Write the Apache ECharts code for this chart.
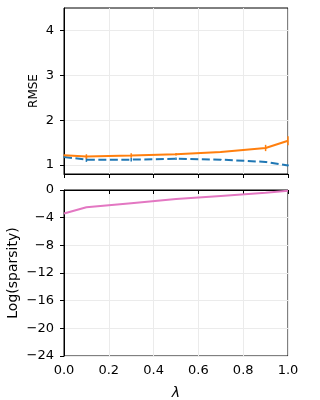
<!DOCTYPE html>
<html>
<head>
<meta charset="utf-8">
<script src="https://cdn.jsdelivr.net/npm/echarts@6/dist/echarts.min.js"></script>
<style>
  html, body { margin: 0; padding: 0; background: #fff; }
  #chart { width: 320px; height: 400px; }
</style>
</head>
<body>
<div id="chart"></div>
<script>
// lambda values shared by all series
const lambdas = [0, 0.1, 0.3, 0.5, 0.7, 0.9, 1.0]

// RMSE (top panel)
const rmseBlue = [1.18, 1.12, 1.12, 1.14, 1.12, 1.07, 0.99]
const rmseBlueErr = [0.01, 0.05, 0.04, 0.03, 0.01, 0.01, 0.02]
const rmseOrange = [1.22, 1.19, 1.21, 1.24, 1.29, 1.38, 1.54]
const rmseOrangeErr = [0.01, 0.05, 0.05, 0.03, 0.01, 0.07, 0.1]

// Log(sparsity) (bottom panel)
const logSparsity = [-3.4, -2.5, -1.9, -1.3, -0.85, -0.4, -0.1]

const rmseTicks = [1, 2, 3, 4]

const font = 'DejaVu Sans'
const ink = '#000'
const gridColor = '#ebebeb'
const blue = '#1f77b4'
const orange = '#ff7f0e'
const pink = '#e377c2'

const pairs = (ys) => lambdas.map((x, i) => [x, ys[i]])
const errData = (ys, errs) => lambdas.map((x, i) => [x, ys[i], errs[i]])

const errorBars = (name, color, ys, errs) => ({
  name,
  type: 'custom',
  xAxisIndex: 0,
  yAxisIndex: 0,
  data: errData(ys, errs),
  z: 4,
  renderItem: (params, api) => {
    const x = api.value(0)
    const lo = api.coord([x, api.value(1) - api.value(2)])
    const hi = api.coord([x, api.value(1) + api.value(2)])
    return {
      type: 'line',
      shape: { x1: lo[0], y1: lo[1], x2: hi[0], y2: hi[1] },
      style: { stroke: color, lineWidth: 1.5 },
    }
  },
})

const xAxisBase = {
  type: 'value',
  min: 0,
  max: 1,
  interval: 0.2,
  axisLine: { lineStyle: { color: ink, width: 1 } },
  axisTick: { show: true, inside: false, length: 4, lineStyle: { color: ink } },
  splitLine: { show: true, lineStyle: { color: gridColor, width: 1 } },
}

const gridBase = {
  left: 64, right: 32, height: 166,
  show: true, borderColor: ink, borderWidth: 1, backgroundColor: 'transparent',
  containLabel: false, outerBoundsMode: 'none',
}

const chart = echarts.init(document.getElementById('chart'), null, { renderer: 'canvas' })

chart.setOption({
  animation: false,
  textStyle: { fontFamily: font },
  grid: [
    { ...gridBase, top: 8 },
    { ...gridBase, top: 190 },
  ],
  xAxis: [
    { ...xAxisBase, gridIndex: 0, axisLabel: { show: false } },
    {
      ...xAxisBase,
      gridIndex: 1,
      axisLabel: { color: ink, fontSize: 13, fontFamily: font, margin: 8, formatter: (v) => v.toFixed(1) },
      name: 'λ',
      nameLocation: 'middle',
      nameGap: 30,
      nameMoveOverlap: false,
      nameTextStyle: { color: ink, fontSize: 14, fontFamily: font, fontStyle: 'italic' },
    },
  ],
  yAxis: [
    {
      type: 'value',
      gridIndex: 0,
      min: 0.8,
      max: 4.5,
      axisLine: { show: true, lineStyle: { color: ink } },
      axisTick: { show: true, length: 4, lineStyle: { color: ink }, customValues: rmseTicks },
      axisLabel: { color: ink, fontSize: 13, fontFamily: font, margin: 10, customValues: rmseTicks },
      splitLine: { show: true, lineStyle: { color: gridColor, width: 1 } },
      name: 'RMSE',
      nameLocation: 'middle',
      nameGap: 24,
      nameMoveOverlap: false,
      nameTextStyle: { color: ink, fontSize: 12, fontFamily: font },
    },
    {
      type: 'value',
      gridIndex: 1,
      min: -24,
      max: 0,
      interval: 4,
      axisLine: { show: true, lineStyle: { color: ink } },
      axisTick: { show: true, length: 4, lineStyle: { color: ink } },
      axisLabel: {
        color: ink, fontSize: 13, fontFamily: font, margin: 10,
        formatter: (v) => String(v).replace('-', '\u2212'),
      },
      splitLine: { show: true, lineStyle: { color: gridColor, width: 1 } },
      name: 'Log(sparsity)',
      nameLocation: 'middle',
      nameGap: 44,
      nameMoveOverlap: false,
      nameTextStyle: { color: ink, fontSize: 14, fontFamily: font },
    },
  ],
  series: [
    {
      name: 'blue', type: 'line', xAxisIndex: 0, yAxisIndex: 0,
      data: pairs(rmseBlue), showSymbol: false, z: 3,
      lineStyle: { color: blue, width: 2, type: [8, 3.5] },
    },
    errorBars('blueErr', blue, rmseBlue, rmseBlueErr),
    {
      name: 'orange', type: 'line', xAxisIndex: 0, yAxisIndex: 0,
      data: pairs(rmseOrange), showSymbol: false, z: 5,
      lineStyle: { color: orange, width: 2 },
    },
    { ...errorBars('orangeErr', orange, rmseOrange, rmseOrangeErr), z: 6 },
    {
      name: 'sparsity', type: 'line', xAxisIndex: 1, yAxisIndex: 1,
      data: pairs(logSparsity), showSymbol: false,
      lineStyle: { color: pink, width: 2 },
    },
  ],
})
</script>
</body>
</html>
